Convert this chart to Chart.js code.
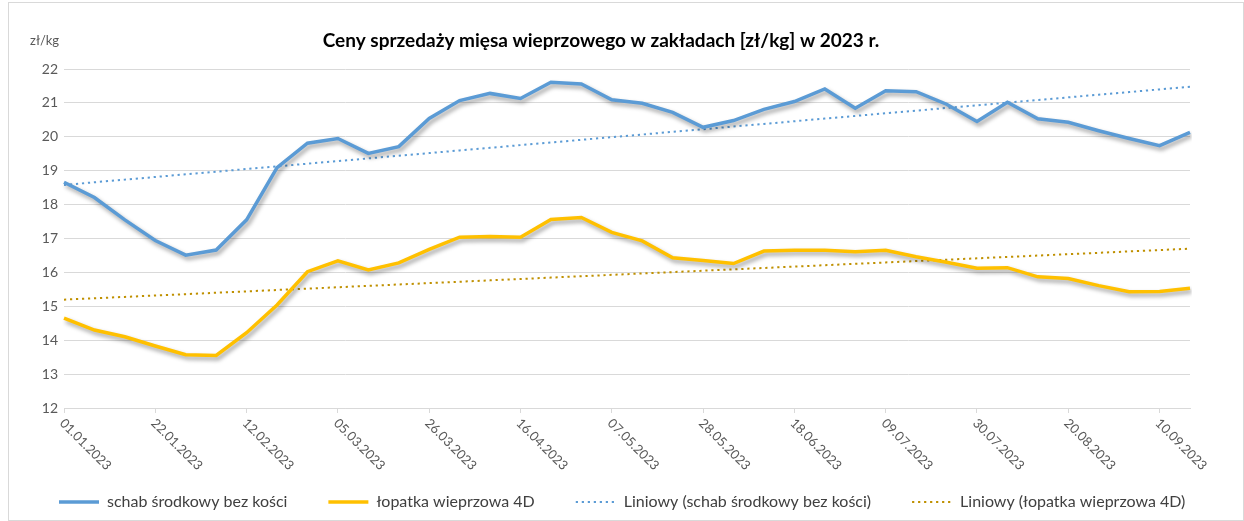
<!DOCTYPE html>
<html>
<head>
<meta charset="utf-8">
<script src="https://cdn.jsdelivr.net/npm/chart.js@4.4.1/dist/chart.umd.min.js"></script>
<style>
  body { margin: 0; background: #fff; }
  #box { position: absolute; left: 8px; top: 2px; width: 1234px; height: 517px; border: 1px solid #d9d9d9; }
</style>
</head>
<body>
<div id="box"><canvas id="chartCanvas" width="1234" height="517"></canvas></div>
<script>
const labels = [
  '01.01.2023', '08.01.2023', '15.01.2023', '22.01.2023', '29.01.2023', '05.02.2023',
  '12.02.2023', '19.02.2023', '26.02.2023', '05.03.2023', '12.03.2023', '19.03.2023',
  '26.03.2023', '02.04.2023', '09.04.2023', '16.04.2023', '23.04.2023', '30.04.2023',
  '07.05.2023', '14.05.2023', '21.05.2023', '28.05.2023', '04.06.2023', '11.06.2023',
  '18.06.2023', '25.06.2023', '02.07.2023', '09.07.2023', '16.07.2023', '23.07.2023',
  '30.07.2023', '06.08.2023', '13.08.2023', '20.08.2023', '27.08.2023', '03.09.2023',
  '10.09.2023', '17.09.2023'
];

const schab = [
  18.66, 18.21, 17.55, 16.94, 16.51, 16.66, 17.55, 19.09, 19.81, 19.95, 19.51, 19.71,
  20.54, 21.07, 21.28, 21.13, 21.61, 21.56, 21.09, 20.99, 20.72, 20.28, 20.48, 20.81,
  21.04, 21.41, 20.84, 21.36, 21.33, 20.96, 20.45, 21.02, 20.53, 20.43, 20.18, 19.95,
  19.74, 20.13
];

const lopatka = [
  14.65, 14.30, 14.10, 13.83, 13.57, 13.55, 14.22, 15.04, 16.02, 16.34, 16.07, 16.28,
  16.68, 17.04, 17.06, 17.04, 17.56, 17.62, 17.18, 16.93, 16.43, 16.35, 16.26, 16.63,
  16.65, 16.65, 16.61, 16.65, 16.46, 16.30, 16.12, 16.14, 15.87, 15.82, 15.61, 15.43,
  15.44, 15.53
];

const seriesNames = ['schab środkowy bez kości', 'łopatka wieprzowa 4D'];
const chartTitle = 'Ceny sprzedaży mięsa wieprzowego w zakładach [zł/kg] w 2023 r.';
const unitLabel = 'zł/kg';
const yMin = 12, yMax = 22;
const labelEvery = 3;

// linia trendu (regresja liniowa) jak w Excelu
function trend(vals) {
  const n = vals.length;
  let sx = 0, sy = 0, sxy = 0, sxx = 0;
  vals.forEach((v, i) => { sx += i; sy += v; sxy += i * v; sxx += i * i; });
  const b = (n * sxy - sx * sy) / (n * sxx - sx * sx);
  const a = (sy - b * sx) / n;
  return vals.map((_, i) => a + b * i);
}

const FONT = 'Lato, "Open Sans", sans-serif';

const shadowPlugin = {
  id: 'shadow',
  beforeDatasetDraw(chart, args) {
    if (args.index > 1) return;
    const ctx = chart.ctx;
    ctx.save();
    ctx.shadowColor = 'rgba(0,0,0,0.38)';
    ctx.shadowBlur = 4;
    ctx.shadowOffsetX = 2;
    ctx.shadowOffsetY = 3;
  },
  afterDatasetDraw(chart, args) {
    if (args.index > 1) return;
    chart.ctx.restore();
  }
};

// tytuł, jednostka i ukośne etykiety osi X
const extraText = {
  id: 'extraText',
  afterDraw(chart) {
    const ctx = chart.ctx;
    const xs = chart.scales.x;
    const area = chart.chartArea;
    ctx.save();
    ctx.textBaseline = 'middle';

    ctx.fillStyle = '#000';
    ctx.font = 'bold 19px ' + FONT;
    ctx.textAlign = 'center';
    ctx.fillText(chartTitle, (area.left + area.right) / 2 - 26, 38);

    ctx.fillStyle = '#595959';
    ctx.font = '13px ' + FONT;
    ctx.textAlign = 'left';
    ctx.fillText(unitLabel, 21, 38);

    labels.forEach((lab, i) => {
      if (i % labelEvery !== 0) return;
      const x = xs.getPixelForValue(i);
      ctx.save();
      ctx.translate(x - 2, xs.top + 13);
      ctx.rotate(Math.PI / 4);
      ctx.fillText(lab, 0, 0);
      ctx.restore();
    });
    ctx.restore();
  }
};

const ctx = document.getElementById('chartCanvas').getContext('2d');

new Chart(ctx, {
  type: 'line',
  data: {
    labels: labels,
    datasets: [
      {
        label: seriesNames[0],
        data: schab,
        borderColor: '#5B9BD5',
        borderWidth: 3.5,
        pointRadius: 0,
        tension: 0
      },
      {
        label: seriesNames[1],
        data: lopatka,
        borderColor: '#FFC000',
        borderWidth: 3.5,
        pointRadius: 0,
        tension: 0
      },
      {
        label: 'Liniowy (' + seriesNames[0] + ')',
        data: trend(schab),
        borderColor: '#5B9BD5',
        borderWidth: 2,
        borderDash: [2.2, 3.8],
        pointRadius: 0,
        tension: 0
      },
      {
        label: 'Liniowy (' + seriesNames[1] + ')',
        data: trend(lopatka),
        borderColor: '#BF9000',
        borderWidth: 2,
        borderDash: [2.2, 3.8],
        pointRadius: 0,
        tension: 0
      }
    ]
  },
  options: {
    responsive: false,
    animation: false,
    layout: { padding: { left: 9, right: 0, top: 66, bottom: 0 } },
    plugins: {
      title: { display: false },
      legend: {
        display: true,
        position: 'bottom',
        align: 'start',
        labels: {
          usePointStyle: true,
          pointStyle: 'line',
          pointStyleWidth: 40,
          padding: 41,
          color: '#404040',
          font: { family: FONT, size: 16 },
          generateLabels(chart) {
            const items = Chart.defaults.plugins.legend.labels.generateLabels(chart);
            items.forEach(it => {
              const ds = chart.data.datasets[it.datasetIndex];
              it.lineDash = ds.borderDash || [];
              it.lineWidth = ds.borderWidth;
            });
            return items;
          }
        }
      },
      tooltip: { enabled: false }
    },
    scales: {
      x: {
        offset: false,
        grid: {
          display: true,
          drawOnChartArea: false,
          drawTicks: true,
          tickLength: 5,
          color: c => (c.index % labelEvery === 0 ? '#d9d9d9' : 'rgba(0,0,0,0)')
        },
        border: { display: true, color: '#d9d9d9' },
        ticks: { display: false, autoSkip: false },
        afterFit: s => { s.height = 45; }
      },
      y: {
        min: yMin,
        max: yMax,
        grid: { color: '#d9d9d9', drawTicks: false },
        border: { display: false },
        ticks: {
          stepSize: 1,
          padding: 6,
          color: '#595959',
          font: { family: FONT, size: 14 }
        },
        afterFit: s => { s.width = 46; }
      },
      // pusta oś po prawej, tylko margines
      yRight: {
        position: 'right',
        display: true,
        grid: { display: false },
        border: { display: false },
        ticks: { display: false },
        afterFit: s => { s.width = 53; }
      }
    }
  },
  plugins: [shadowPlugin, extraText]
});
</script>
</body>
</html>
